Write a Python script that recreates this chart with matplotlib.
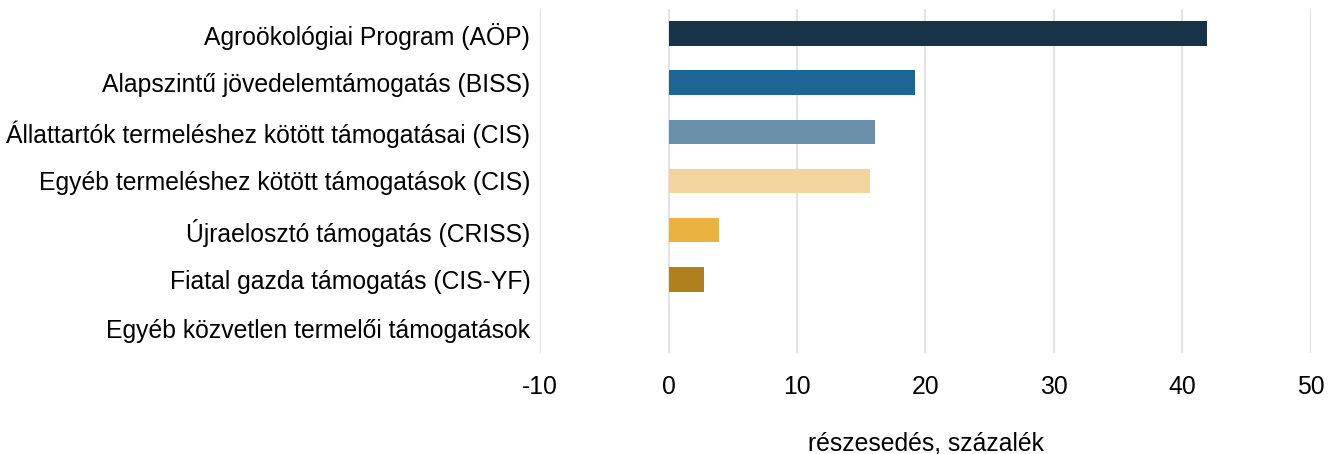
import matplotlib
matplotlib.use("Agg")
import matplotlib.pyplot as plt
import numpy as np

plt.rcParams['font.family'] = ['Liberation Sans', 'DejaVu Sans']

categories = [
    "Agroökológiai Program (AÖP)",
    "Alapszintű jövedelemtámogatás (BISS)",
    "Állattartók termeléshez kötött támogatásai (CIS)",
    "Egyéb termeléshez kötött támogatások (CIS)",
    "Újraelosztó támogatás (CRISS)",
    "Fiatal gazda támogatás (CIS-YF)",
    "Egyéb közvetlen termelői támogatások",
]
shares = [41.9, 19.2, 16.1, 15.7, 3.9, 2.8, 0.0]
bar_colors = ["#183247", "#1c6594", "#6a90ab", "#f2d49e", "#eab240", "#b0801c", "#999999"]
x_ticks = [-10, 0, 10, 20, 30, 40, 50]

fs = 17.8

fig = plt.figure(figsize=(13.35, 4.54), dpi=100)
ax = fig.add_axes([0.4045, 0.2225, 0.5775, 0.7577])

y = np.arange(len(categories))
ax.barh(y, shares, height=0.5, color=bar_colors, zorder=3)

ax.set_xlim(-10, 50)
ax.set_ylim(len(categories) - 0.5, -0.5)
ax.set_xticks(x_ticks)
ax.set_xticklabels([str(t) for t in x_ticks], fontsize=fs)
ax.set_yticks(y)
ax.set_yticklabels(categories, fontsize=fs)
ax.tick_params(axis='both', length=0, colors='#000000')
ax.tick_params(axis='x', pad=15.5)
ax.tick_params(axis='y', pad=7)

ax.grid(axis='x', color='#e3e3e3', linewidth=1.5, zorder=0)
for s in ax.spines.values():
    s.set_visible(False)

ax.set_xlabel("részesedés, százalék", fontsize=fs, labelpad=24)

fig.savefig("out.png", dpi=100)
